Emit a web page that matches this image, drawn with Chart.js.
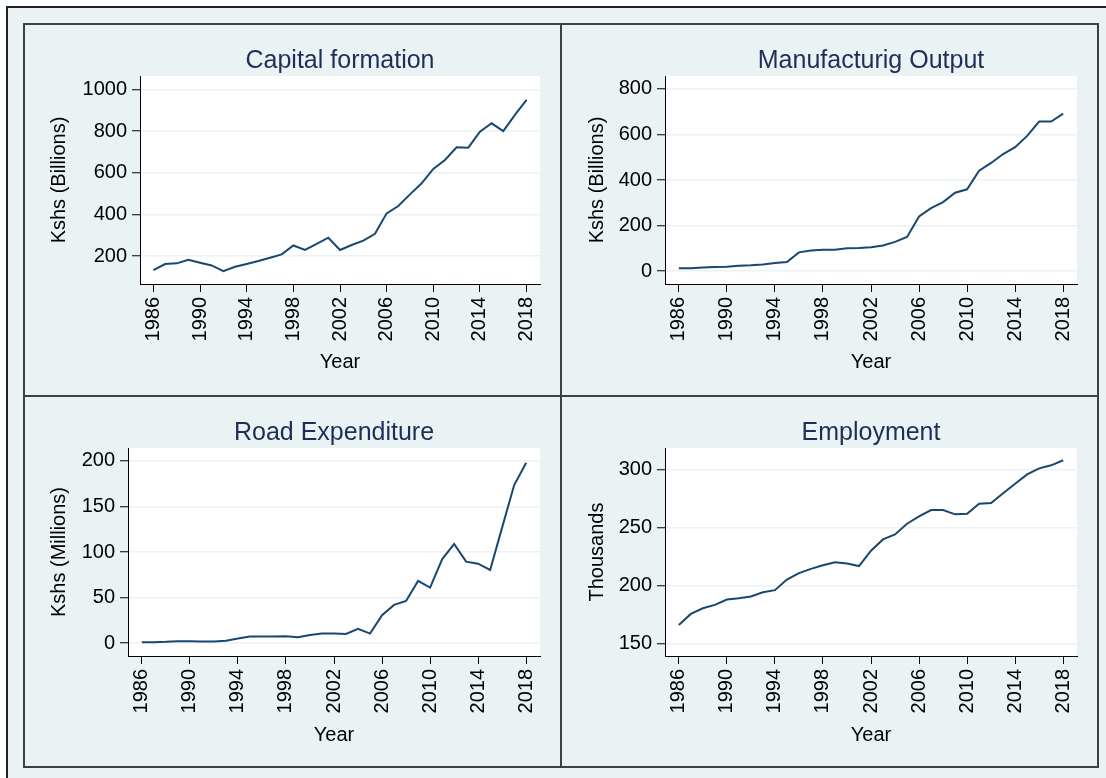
<!DOCTYPE html>
<html>
<head>
<meta charset="utf-8">
<script src="https://cdn.jsdelivr.net/npm/chart.js@4.4.1/dist/chart.umd.min.js"></script>
<style>
    html, body { margin: 0; padding: 0; background: #ffffff; }
    body { width: 1106px; height: 778px; position: relative; overflow: hidden; }
    #frame {
        position: absolute; left: 6px; top: 6px; width: 1110px; height: 780px;
        background: #eaf2f3; border-left: 2px solid #222; border-top: 2px solid #222;
    }
    .panel {
        position: absolute; box-sizing: border-box;
        border: 2px solid #404040; background: #eaf2f3;
    }
    canvas { position: absolute; }
</style>
</head>
<body>
<div id="frame"></div>
<div class="panel" style="left:23px; top:23px; width:539px; height:374px;"></div>
<div class="panel" style="left:560px; top:23px; width:539px; height:374px;"></div>
<div class="panel" style="left:23px; top:395px; width:539px; height:373px;"></div>
<div class="panel" style="left:560px; top:395px; width:539px; height:373px;"></div>

<canvas id="chart-capital" width="536" height="371" style="left:25px; top:25px;"></canvas>
<canvas id="chart-manuf" width="535" height="371" style="left:563px; top:25px;"></canvas>
<canvas id="chart-road" width="536" height="370" style="left:25px; top:398px;"></canvas>
<canvas id="chart-employ" width="535" height="370" style="left:563px; top:398px;"></canvas>

<script>
// --- data ---
const years = [1986, 1987, 1988, 1989, 1990, 1991, 1992, 1993, 1994, 1995, 1996,
    1997, 1998, 1999, 2000, 2001, 2002, 2003, 2004, 2005, 2006, 2007,
    2008, 2009, 2010, 2011, 2012, 2013, 2014, 2015, 2016, 2017, 2018];

const capitalFormation = [133, 162, 165, 182, 168, 155, 128, 149, 162, 176, 192,
    208, 251, 230, 258, 288, 229, 253, 274, 307, 405, 440,
    496, 549, 618, 661, 722, 720, 797, 837, 800, 877, 949];

const manufacturingOutput = [12, 12, 15, 18, 19, 23, 25, 29, 35, 40, 82,
    90, 94, 94, 100, 101, 104, 112, 128, 150, 240, 276,
    303, 344, 359, 441, 475, 514, 544, 594, 657, 657, 692];

const roadExpenditure = [1.1, 1.1, 1.5, 2.2, 2.2, 1.8, 1.8, 2.6, 5.1, 7.3, 7.3,
    7.3, 7.7, 6.6, 9.1, 10.6, 10.6, 10.2, 15.7, 10.6, 30.7, 42,
    46.4, 68.3, 61, 92, 108.8, 89.4, 87.2, 80.3, 127, 173.4, 197.8];

const employment = [165.9, 175.4, 180.3, 183.2, 187.9, 189, 190.5, 194.2, 196, 205.2, 210.7,
    214.4, 217.6, 220.2, 219.1, 216.8, 230.1, 239.9, 244.2, 253.5, 259.8, 265.3,
    265.3, 261.6, 262.1, 270.8, 271.4, 279.8, 288.1, 296.2, 301.4, 304, 308.4];

// tick labels
const yearTicks = [1986, 1990, 1994, 1998, 2002, 2006, 2010, 2014, 2018];
const capitalTicks = [200, 400, 600, 800, 1000];
const manufTicks = [0, 200, 400, 600, 800];
const roadTicks = [0, 50, 100, 150, 200];
const employTicks = [150, 200, 250, 300];

const FONT = "'Liberation Sans', Arial, sans-serif";
const LINE_COLOR = '#1a476f';
const TITLE_COLOR = '#1f2d57';
const GRID_COLOR = '#eaf2f3';

// 흰색 플롯 영역
const plotBackground = {
    id: 'plotBackground',
    beforeDraw(chart) {
        const { ctx, chartArea: a } = chart;
        ctx.save();
        ctx.fillStyle = '#ffffff';
        ctx.fillRect(a.left, a.top, a.right - a.left, a.bottom - a.top);
        ctx.restore();
    }
};

/**
 * 패널 하나 그리기
 * area: chart area inside the canvas {left, right, top, bottom}
 */
function drawPanel(canvasId, title, yTitle, values, yTicks, yMin, yMax, area) {
    const canvas = document.getElementById(canvasId);
    const W = canvas.width, H = canvas.height;

    new Chart(canvas, {
        type: 'line',
        data: {
            datasets: [{
                data: years.map((yr, i) => ({ x: yr, y: values[i] })),
                borderColor: LINE_COLOR,
                borderWidth: 2,
                pointRadius: 0,
                tension: 0,
                fill: false
            }]
        },
        options: {
            responsive: false,
            animation: false,
            devicePixelRatio: 1,
            layout: { padding: { left: 0, top: 0, right: W - area.right, bottom: 0 } },
            plugins: {
                legend: { display: false },
                tooltip: { enabled: false },
                title: {
                    display: true,
                    text: title,
                    fullSize: false,
                    color: TITLE_COLOR,
                    font: { family: FONT, size: 25, weight: 'normal', lineHeight: 1.2 },
                    padding: { top: area.top - 30, bottom: 0 }
                }
            },
            scales: {
                x: {
                    type: 'linear',
                    min: 1984.85,
                    max: 2019.15,
                    afterBuildTicks: s => { s.ticks = yearTicks.map(v => ({ value: v })); },
                    afterFit: s => { s.height = H - area.bottom; },
                    border: { display: true, color: '#000', width: 1 },
                    grid: { drawOnChartArea: false, drawTicks: true, tickLength: 8, tickColor: '#000', tickWidth: 1 },
                    ticks: {
                        color: '#000', padding: 5, minRotation: 90, maxRotation: 90,
                        autoSkip: false,
                        font: { family: FONT, size: 20 },
                        callback: v => String(v)
                    },
                    title: {
                        display: true, text: 'Year', color: '#000',
                        font: { family: FONT, size: 20 },
                        padding: { top: 0, bottom: H - 337 - 12 }
                    }
                },
                y: {
                    type: 'linear',
                    min: yMin,
                    max: yMax,
                    afterBuildTicks: s => { s.ticks = yTicks.map(v => ({ value: v })); },
                    afterFit: s => { s.width = area.left; },
                    border: { display: true, color: '#000', width: 1 },
                    grid: { color: GRID_COLOR, lineWidth: 1.5, drawTicks: true, tickLength: 8, tickColor: '#000', tickWidth: 1 },
                    ticks: {
                        color: '#000', padding: 5, autoSkip: false,
                        font: { family: FONT, size: 20 },
                        callback: v => String(v)
                    },
                    title: {
                        display: true, text: yTitle, color: '#000',
                        font: { family: FONT, size: 20 },
                        padding: { top: 22, bottom: 0 }
                    }
                }
            }
        },
        plugins: [plotBackground]
    });
}

drawPanel('chart-capital', 'Capital formation', 'Kshs (Billions)', capitalFormation,
    capitalTicks, 66, 1064, { left: 115, right: 515, top: 51, bottom: 259 });
drawPanel('chart-manuf', 'Manufacturig Output', 'Kshs (Billions)', manufacturingOutput,
    manufTicks, -57, 857, { left: 102, right: 514, top: 51, bottom: 259 });
drawPanel('chart-road', 'Road Expenditure', 'Kshs (Millions)', roadExpenditure,
    roadTicks, -14, 214, { left: 103, right: 515, top: 50, bottom: 258 });
drawPanel('chart-employ', 'Employment', 'Thousands', employment,
    employTicks, 139, 319, { left: 102, right: 514, top: 50, bottom: 258 });
</script>
</body>
</html>
